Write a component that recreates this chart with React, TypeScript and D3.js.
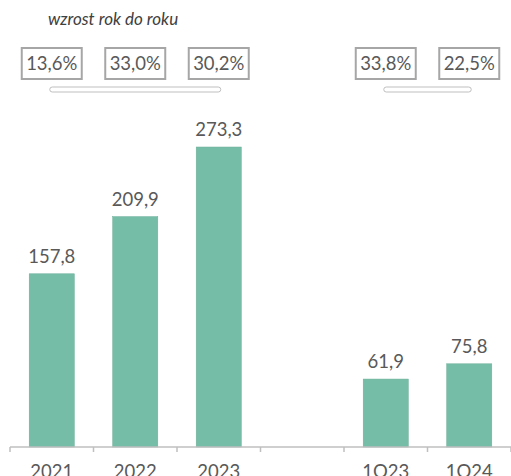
import React from "react";
import * as d3 from "d3";

const categories = ["2021", "2022", "2023", "", "1Q23", "1Q24"];
const values: (number | null)[] = [157.8, 209.9, 273.3, null, 61.9, 75.8];
const growth: (string | null)[] = ["13,6%", "33,0%", "30,2%", null, "33,8%", "22,5%"];
const valueLabels: (string | null)[] = ["157,8", "209,9", "273,3", null, "61,9", "75,8"];
const groups: [number, number][] = [[0, 2], [4, 5]];
const title = "wzrost rok do roku";

const W = 511;
const H = 476;
const FONT = "Lato, 'Liberation Sans', sans-serif";

export default function App() {
  const keys = categories.map((c, i) => `k${i}`);
  const x = d3.scaleBand<string>().domain(keys).range([10, 511]).padding(0);
  const y = d3.scaleLinear().domain([0, 300]).range([447, 117.7]);
  const bw = x.bandwidth();
  const barW = bw * 0.54;
  const axisY = y(0);
  const boxW = 60;
  const boxH = 31;
  const boxY = 48;
  const bracketY = 87;

  const boundaries = keys.map((k) => x(k)!).concat([x(keys[keys.length - 1])! + bw]);

  return (
    <svg width={W} height={H} style={{ position: "absolute", left: 0, top: 0, background: "#fff" }}>
      <text x={48} y={25} fontFamily={FONT} fontStyle="italic" fontSize={17} fill="#404040">
        {title}
      </text>
      {growth.map((g, i) =>
        g ? (
          <g key={`g${i}`}>
            <rect
              x={x(keys[i])! + bw / 2 - boxW / 2}
              y={boxY}
              width={boxW}
              height={boxH}
              fill="#fff"
              stroke="#a6a6a6"
              strokeWidth={2}
            />
            <text
              x={x(keys[i])! + bw / 2}
              y={boxY + boxH / 2 + 6.5}
              textAnchor="middle"
              fontFamily={FONT}
              fontSize={18.5}
              fill="#595959"
            >
              {g}
            </text>
          </g>
        ) : null
      )}
      {groups.map(([a, b], i) => {
        const x0 = x(keys[a])! + bw / 2 - 2;
        const x1 = x(keys[b])! + bw / 2 + 2;
        return (
          <rect
            key={`br${i}`}
            x={x0}
            y={bracketY}
            width={x1 - x0}
            height={5}
            rx={2.5}
            fill="#fff"
            stroke="#bfbfbf"
            strokeWidth={1}
          />
        );
      })}
      {values.map((v, i) =>
        v != null ? (
          <g key={`b${i}`}>
            <rect
              x={x(keys[i])! + (bw - barW) / 2}
              y={y(v)}
              width={barW}
              height={axisY - y(v)}
              fill="#76bda7"
              stroke="#6aae98"
              strokeWidth={0.5}
            />
            <text
              x={x(keys[i])! + bw / 2}
              y={y(v) - 11}
              textAnchor="middle"
              fontFamily={FONT}
              fontSize={18.5}
              fill="#595959"
            >
              {valueLabels[i]}
            </text>
          </g>
        ) : null
      )}
      <line x1={10} x2={511} y1={axisY} y2={axisY} stroke="#bfbfbf" strokeWidth={1.5} />
      {boundaries.map((bx, i) => (
        <line key={`t${i}`} x1={bx} x2={bx} y1={axisY} y2={axisY + 5} stroke="#bfbfbf" strokeWidth={1.5} />
      ))}
      {categories.map((c, i) => (
        <text
          key={`l${i}`}
          x={x(keys[i])! + bw / 2}
          y={478}
          textAnchor="middle"
          fontFamily={FONT}
          fontSize={18.5}
          fill="#595959"
        >
          {c}
        </text>
      ))}
    </svg>
  );
}
